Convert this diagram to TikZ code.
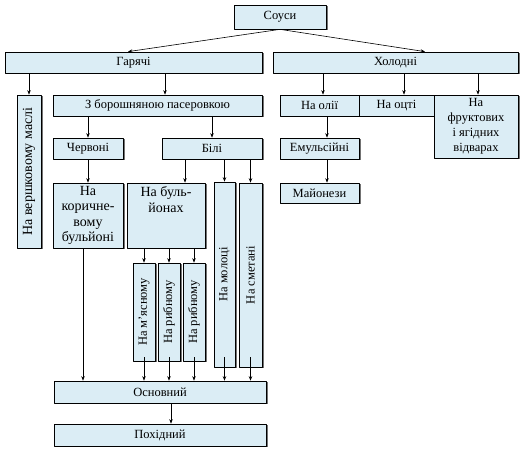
\documentclass[tikz,border=0pt]{standalone}
\usepackage{fontspec}
\setmainfont{Liberation Serif}
\setsansfont{Liberation Serif}
\usepackage{graphicx}
\usetikzlibrary{shadows, arrows.meta}
\definecolor{boxblue}{RGB}{219,237,245}
\tikzset{
  box/.style={draw, line width=0.7pt, fill=boxblue, inner sep=0pt, align=center,
    drop shadow={shadow xshift=1.6pt, shadow yshift=-1.2pt, fill=black!55, opacity=1},
    font=\rmfamily\fontsize{12.5}{15}\selectfont},
  big/.style={font=\rmfamily\fontsize{14}{15.5}\selectfont}
}
\begin{document}
\begin{tikzpicture}[x=1pt, y=-1pt, line cap=round, line join=round, >={Stealth[length=4.5pt, width=3.5pt]}, line width=0.6pt]

  \useasboundingbox (0,0) rectangle (525,454);

  % Верхній рівень
  \node[box, minimum width=92pt, minimum height=24pt] (sousy) at (280,17) {Соуси};
  \node[box, minimum width=257pt, minimum height=21pt] (hot) at (133.5,62.5) {Гарячі};
  \node[box, minimum width=245pt, minimum height=21pt] (cold) at (395.5,62.5) {Холодні};

  % Гарячі
  \node[box, big, minimum width=24pt, minimum height=153pt] (butter) at (29,171.5) {\rotatebox{90}{На вершковому маслі}};
  \node[box, minimum width=209pt, minimum height=21pt] (flour) at (157.5,105.5) {З борошняною пасеровкою};
  \node[box, minimum width=70pt, minimum height=21pt] (red) at (88,148.5) {Червоні};
  \node[box, minimum width=100pt, minimum height=21pt] (white) at (212,148.5) {Білі};
  \node[box, big, minimum width=70pt, minimum height=65pt] (brown) at (88,215.5) {На\\коричне-\\вому\\бульйоні};
  \node[box, minimum width=78pt, minimum height=65pt] (broth) at (166,215.5) {};
  \node[big, align=center, anchor=north, inner sep=0pt] (brothtext) at ([yshift=-4pt]broth.north) {На буль-\\йонах};
  \node[box, minimum width=21pt, minimum height=185pt] (milk) at (224.5,274.5) {\rotatebox{90}{На молоці}};
  \node[box, minimum width=23pt, minimum height=184pt] (sour) at (250.5,275) {\rotatebox{90}{На сметані}};
  \node[box, minimum width=22pt, minimum height=98pt] (meat) at (144,312) {\rotatebox{90}{На м’ясному}};
  \node[box, minimum width=22pt, minimum height=98pt] (fisha) at (169,312) {\rotatebox{90}{На рибному}};
  \node[box, minimum width=22pt, minimum height=98pt] (fishb) at (194,312) {\rotatebox{90}{На рибному}};
  \node[box, minimum width=212pt, minimum height=22pt] (main) at (160,392) {Основний};
  \node[box, minimum width=212pt, minimum height=22pt] (derived) at (160,435) {Похідний};

  % Холодні
  \node[box, minimum width=79pt, minimum height=21pt] (oil) at (319.5,105.5) {На олії};
  \node[box, minimum width=75pt, minimum height=21pt] (vinegar) at (396.5,105.5) {На оцті};
  \node[box, minimum width=84pt, minimum height=63pt] (fruit) at (476,126.5) {На\\фруктових\\і ягідних\\відварах};
  \node[box, minimum width=79pt, minimum height=21pt] (emul) at (319.5,148.5) {Емульсійні};
  \node[box, minimum width=79pt, minimum height=20pt] (mayo) at (319.5,193) {Майонези};

  % Стрілки від кореня
  \draw[->] (sousy.south) -- ([xshift=-5.5pt]hot.north);
  \draw[->] (sousy.south) -- ([xshift=29.5pt]cold.north);

  % Стрілки гілки гарячих
  \draw[->] (butter.north |- hot.south) -- (butter.north);
  \draw[->] ([xshift=7.5pt]flour.north |- hot.south) -- ([xshift=7.5pt]flour.north);
  \draw[->] (red.north |- flour.south) -- (red.north);
  \draw[->] (white.north |- flour.south) -- (white.north);
  \draw[->] (red.south) -- (brown.north);
  \draw[->] ([xshift=19pt]broth.north |- white.south) -- ([xshift=19pt]broth.north);
  \draw[->] (milk.north |- white.south) -- (milk.north);
  \draw[->] (sour.north |- white.south) -- (sour.north);
  \foreach \n in {meat, fisha, fishb}
    \draw[->] (\n.north |- broth.south) -- (\n.north);

  % Стрілки до основного
  \draw[->] ([xshift=-5pt]brown.south) -- ([xshift=-5pt]brown.south |- main.north);
  \foreach \n in {meat, fisha, fishb}
    \draw[->] ([yshift=4pt]\n.south) -- (\n.south |- main.north);
  \foreach \n in {milk, sour}
    \draw[->] ([yshift=10pt]\n.south) -- (\n.south |- main.north);
  \draw[->] ([xshift=11pt]main.south) -- ([xshift=11pt]derived.north);

  % Стрілки гілки холодних
  \draw[->] ([xshift=3.5pt]oil.north |- cold.south) -- ([xshift=3.5pt]oil.north);
  \draw[->] ([xshift=7.5pt]vinegar.north |- cold.south) -- ([xshift=7.5pt]vinegar.north);
  \draw[->] ([xshift=2pt]fruit.north |- cold.south) -- ([xshift=2pt]fruit.north);
  \draw[->] ([xshift=7.5pt]oil.south) -- ([xshift=7.5pt]emul.north);
  \draw[->] ([xshift=7.5pt]emul.south) -- ([xshift=7.5pt]mayo.north);

\end{tikzpicture}
\end{document}
